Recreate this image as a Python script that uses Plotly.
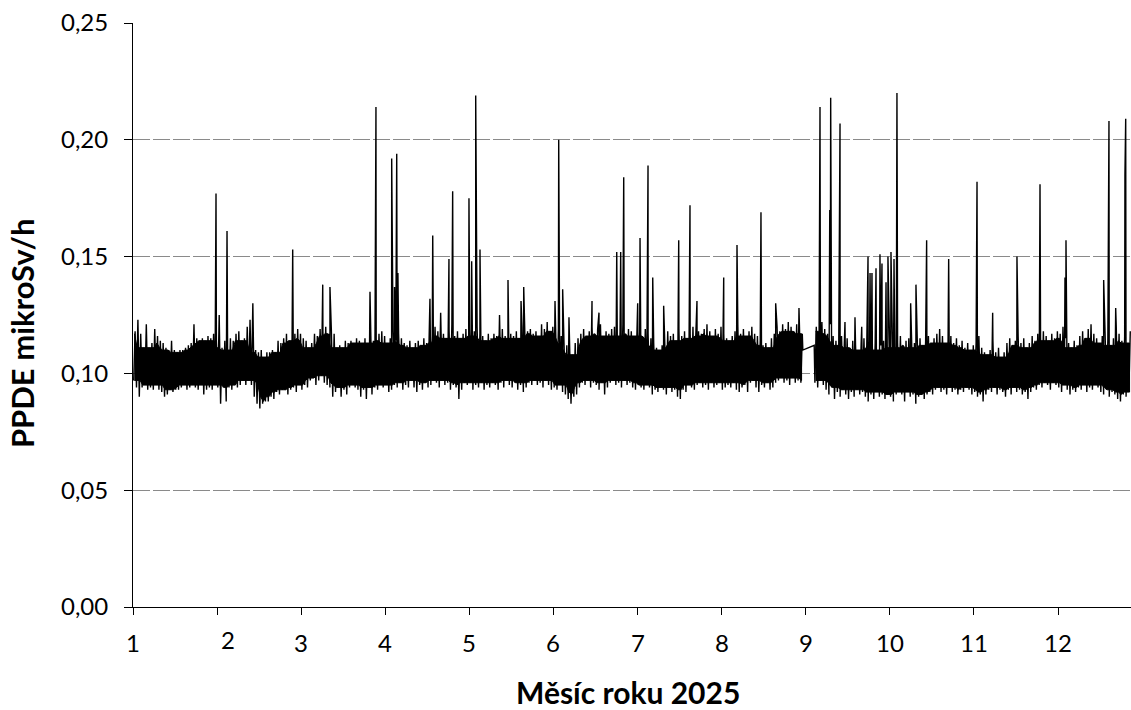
import plotly.graph_objects as go

# PPDE (nSv/h): daily low and high of the hourly readings, one list per month
lo_1 = [97, 94, 90, 94, 95, 93, 94, 93, 95, 93, 92, 90, 91, 93, 92, 93, 93, 94, 95, 93, 94, 95, 94, 93, 95, 91, 93, 94, 93, 95]
hi_1 = [118, 123, 117, 111, 121, 111, 113, 119, 116, 114, 113, 111, 110, 114, 110, 109, 110, 110, 111, 112, 113, 121, 115, 114, 115, 114, 116, 115, 117, 114]
lo_2 = [94, 87, 94, 88, 94, 93, 95, 94, 95, 97, 95, 97, 95, 90, 87, 85, 87, 88, 88, 90, 89, 92, 91, 93, 93, 91, 93, 94, 92, 95]
hi_2 = [125, 111, 114, 110, 115, 114, 117, 118, 114, 115, 120, 123, 130, 110, 109, 110, 107, 109, 109, 110, 109, 114, 113, 115, 117, 114, 115, 117, 119, 117]
lo_3 = [93, 95, 94, 97, 98, 95, 97, 99, 96, 95, 94, 90, 92, 94, 90, 93, 91, 94, 95, 94, 93, 90, 93, 89, 94, 91, 94, 93, 95, 94]
hi_3 = [115, 114, 111, 113, 117, 116, 119, 118, 120, 117, 119, 117, 111, 112, 111, 114, 113, 114, 113, 115, 114, 113, 115, 113, 116, 114, 115, 117, 118, 116]
lo_4 = [95, 92, 93, 95, 94, 96, 93, 95, 94, 97, 94, 92, 95, 93, 96, 94, 95, 97, 96, 94, 97, 95, 96, 93, 95, 94, 89, 93, 96, 95]
hi_4 = [113, 115, 118, 114, 117, 115, 113, 112, 114, 111, 113, 114, 112, 115, 113, 117, 116, 120, 118, 126, 117, 115, 119, 121, 116, 118, 115, 117, 119, 116]
lo_5 = [96, 93, 95, 94, 96, 93, 95, 94, 96, 95, 93, 96, 94, 97, 95, 94, 96, 93, 95, 92, 94, 96, 95, 97, 95, 96, 94, 97, 95, 93]
hi_5 = [119, 118, 120, 117, 116, 114, 117, 115, 117, 116, 125, 119, 116, 115, 117, 116, 118, 115, 120, 117, 118, 119, 117, 118, 116, 121, 119, 122, 118, 120]
lo_6 = [94, 93, 95, 92, 91, 89, 87, 90, 91, 94, 96, 95, 97, 94, 96, 95, 93, 96, 91, 94, 96, 97, 95, 96, 94, 97, 95, 96, 94, 93]
hi_6 = [121, 119, 116, 113, 112, 110, 108, 113, 115, 117, 119, 116, 118, 120, 117, 119, 121, 116, 118, 117, 119, 120, 116, 118, 121, 117, 119, 118, 116, 119]
lo_7 = [95, 94, 93, 95, 94, 91, 93, 92, 94, 93, 91, 94, 92, 93, 90, 89, 93, 92, 95, 94, 93, 95, 96, 94, 95, 93, 96, 94, 95, 96]
hi_7 = [118, 116, 119, 117, 115, 113, 111, 110, 112, 115, 118, 116, 117, 114, 119, 116, 118, 115, 117, 120, 116, 118, 117, 119, 121, 118, 116, 119, 117, 120]
lo_8 = [93, 94, 95, 94, 96, 93, 92, 94, 95, 92, 96, 97, 94, 92, 95, 94, 96, 93, 94, 96, 97, 98, 96, 97, 95, 98, 96, 97, 96, None]
hi_8 = [117, 115, 114, 116, 118, 121, 117, 119, 116, 118, 120, 117, 116, 114, 112, 113, 111, 115, 117, 120, 118, 121, 119, 122, 120, 118, 121, 119, 117, None]
lo_9 = [None, None, None, 96, 94, 97, 95, 93, 91, 94, 89, 92, 90, 93, 91, 89, 92, 90, 93, 91, 92, 90, 88, 91, 89, 92, 90, 91, 89, 91]
hi_9 = [None, None, None, 120, 118, 122, 119, 117, 121, 116, 114, 112, 116, 113, 115, 111, 114, 112, 110, 113, 115, 112, 114, 111, 113, 110, 112, 114, 111, 113]
lo_10 = [90, 88, 91, 92, 91, 88, 92, 90, 91, 87, 90, 91, 89, 91, 92, 91, 93, 94, 92, 93, 91, 94, 92, 93, 91, 93, 92, 94, 93, 91]
hi_10 = [114, 111, 113, 116, 112, 114, 115, 111, 113, 117, 115, 112, 114, 116, 113, 115, 117, 119, 116, 113, 114, 116, 113, 115, 112, 114, 111, 113, 110, 112]
lo_11 = [92, 90, 91, 88, 91, 93, 92, 94, 91, 93, 92, 90, 93, 91, 94, 92, 93, 91, 92, 89, 92, 94, 93, 95, 94, 96, 95, 93, 96, 95]
hi_11 = [113, 116, 111, 109, 108, 110, 114, 109, 111, 107, 109, 113, 115, 112, 114, 116, 113, 115, 111, 113, 116, 114, 117, 115, 118, 116, 114, 117, 115, 118]
lo_12 = [94, 92, 95, 93, 91, 93, 92, 94, 93, 95, 92, 94, 93, 95, 94, 92, 91, 93, 90, 92, 91, 89, 88, 91, 90, 92]
hi_12 = [117, 120, 115, 113, 111, 114, 112, 116, 118, 115, 119, 121, 117, 115, 113, 116, 118, 114, 112, 115, 120, 117, 114, 116, 113, 118]

# short-lived peaks: position on the month axis and peak value (nSv/h)
peak_x = [1.987, 2.118, 2.899, 3.256, 3.342, 3.818, 3.889, 4.076, 4.11, 4.136, 4.15,
          4.531, 4.564, 4.757, 4.801, 4.995, 5.027, 5.075, 5.126, 5.459, 5.614, 5.646,
          6.018, 6.062, 6.109, 6.184, 6.458, 6.541, 6.752, 6.799, 6.835, 7.001, 7.029,
          7.124, 7.180, 7.310, 7.489, 7.623, 7.706, 8.024, 8.182, 8.467, 8.642, 8.919,
          9.169, 9.285, 9.296, 9.407, 9.466, 9.585, 9.665, 9.740, 9.764, 9.787, 9.835,
          9.882, 9.906, 9.954, 9.977, 10.013, 10.049, 10.084, 10.247, 10.310, 10.437,
          10.699, 11.036, 11.222, 11.511, 11.785, 12.082, 12.094, 12.542, 12.605,
          12.685, 12.795, 12.804]
peak_v = [177, 161, 153, 138, 137, 135, 214, 192, 137, 194, 143,
          132, 159, 149, 178, 175, 148, 219, 153, 140, 131, 137,
          131, 200, 136, 124, 131, 126, 152, 152, 184, 130, 158,
          189, 141, 129, 157, 172, 131, 141, 155, 169, 130, 128,
          214, 170, 218, 207, 122, 124, 120, 150, 143, 143, 145,
          151, 147, 139, 150, 152, 149, 220, 130, 138, 157,
          149, 182, 126, 150, 181, 141, 157, 140, 208,
          128, 185, 209]

# outage at the turn of August/September, bridged by a straight segment
gap_x = [8.965, 9.10]
gap_v = [110, 112]

month_labels = ["1", "2", "3", "4", "5", "6", "7", "8", "9", "10", "11", "12"]

lows = [lo_1, lo_2, lo_3, lo_4, lo_5, lo_6, lo_7, lo_8, lo_9, lo_10, lo_11, lo_12]
highs = [hi_1, hi_2, hi_3, hi_4, hi_5, hi_6, hi_7, hi_8, hi_9, hi_10, hi_11, hi_12]

# hourly trace: alternate the daily low and high, then add peaks and the bridge
points = []
# dense core of the band (where readings overlap from day to day),
# one closed polygon per uninterrupted stretch
band_x, band_y = [], []
seg = []  # (x, low, high) for the current stretch
W = 2     # neighbouring days on each side


def close_segment():
    n = len(seg)
    if n:
        xs_ = [s[0] for s in seg]
        top = [min(s[2] for s in seg[max(0, i - W):i + W + 1]) / 1000 for i in range(n)]
        bot = [max(s[1] for s in seg[max(0, i - W):i + W + 1]) / 1000 for i in range(n)]
        band_x.extend(xs_ + xs_[::-1] + [None])
        band_y.extend(bot + top[::-1] + [None])
    seg.clear()


for month, (lo, hi) in enumerate(zip(lows, highs), start=1):
    for day, (a, b) in enumerate(zip(lo, hi)):
        if a is None:
            close_segment()
            continue
        points.append((month + (day + 0.25) / 30, a))
        points.append((month + (day + 0.75) / 30, b))
        seg.append((month + (day + 0.5) / 30, a, b))
close_segment()

points += list(zip(peak_x, peak_v))
points += list(zip(gap_x, gap_v))
points.sort()

xs = [p[0] for p in points]
ys = [p[1] / 1000 for p in points]  # nSv/h -> µSv/h

fig = go.Figure()
fig.add_trace(go.Scatter(x=band_x, y=band_y, mode="lines", fill="toself",
                         fillcolor="black", line=dict(color="black", width=1),
                         hoverinfo="skip"))
fig.add_trace(go.Scatter(x=xs, y=ys, mode="lines",
                         line=dict(color="black", width=1.4),
                         hoverinfo="skip"))

FONT = "Lato"
fig.update_layout(
    width=1131, height=710,
    margin=dict(l=133, r=0, t=23, b=103),
    plot_bgcolor="white", paper_bgcolor="white",
    separators=", ",
    showlegend=False,
    font=dict(family=FONT, size=24, color="black"),
)
fig.update_xaxes(
    range=[1, 12.867], tickvals=list(range(1, 13)), showticklabels=False,
    ticks="outside", ticklen=7, tickcolor="black", tickwidth=1,
    showline=True, linecolor="black", linewidth=1,
    showgrid=False, zeroline=False,
)
fig.update_yaxes(
    range=[0, 0.25], tick0=0, dtick=0.05, tickformat=".2f",
    ticks="outside", ticklen=8, tickcolor="black", tickwidth=1,
    ticklabelstandoff=11,
    showline=True, linecolor="black", linewidth=1,
    showgrid=True, gridcolor="#8a8a8a", gridwidth=1, griddash="17px,3px",
    zeroline=False,
)

# month labels under the ticks; the February label sits a little off its tick
label_dx = {"2": 0.13}
label_dy = {"2": 3}
for i, lab in enumerate(month_labels, start=1):
    fig.add_annotation(
        x=i + label_dx.get(lab, 0), xref="x", y=0, yref="paper",
        yshift=-35 + label_dy.get(lab, 0), yanchor="middle", xanchor="center",
        text=lab, showarrow=False, font=dict(family=FONT, size=24),
    )

fig.add_annotation(
    x=0.496, xref="paper", y=0, yref="paper", yshift=-85,
    xanchor="center", yanchor="middle", showarrow=False,
    text="<b>Měsíc roku 2025</b>", font=dict(family=FONT, size=30),
)
fig.add_annotation(
    x=0, xref="paper", xshift=-111, y=0.469, yref="paper",
    xanchor="center", yanchor="middle", textangle=-90, showarrow=False,
    text="<b>PPDE mikroSv/h</b>", font=dict(family=FONT, size=31),
)

fig.write_html("out.html")
